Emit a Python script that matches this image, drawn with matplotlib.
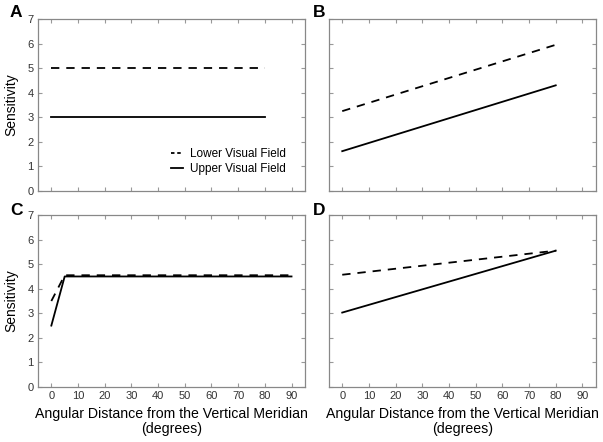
"""Four model panels of visual-field sensitivity versus angular distance."""

import matplotlib
matplotlib.use("Agg")
import matplotlib.pyplot as plt

plt.rcParams["font.family"] = ["Liberation Sans", "DejaVu Sans"]
plt.rcParams["lines.scale_dashes"] = False

# panel data: (x, lower visual field, upper visual field)
a_x = [0, 80]
a_lower = [5.0, 5.0]
a_upper = [3.0, 3.0]

b_x = [0, 80]
b_lower = [3.25, 5.95]
b_upper = [1.62, 4.3]

c_x = [0, 5, 90]
c_lower = [3.5, 4.55, 4.55]
c_upper = [2.5, 4.5, 4.5]

d_x = [0, 80]
d_lower = [4.57, 5.55]
d_upper = [3.03, 5.55]

panels = [
    ("A", a_x, a_lower, a_upper),
    ("B", b_x, b_lower, b_upper),
    ("C", c_x, c_lower, c_upper),
    ("D", d_x, d_lower, d_upper),
]

xticks = list(range(0, 100, 10))
yticks = list(range(0, 8))
xlabel = "Angular Distance from the Vertical Meridian\n(degrees)"

fig, axes = plt.subplots(2, 2, figsize=(6.03, 4.42), dpi=100)
fig.subplots_adjust(left=0.063, right=0.988, top=0.957, bottom=0.1244,
                    wspace=0.09, hspace=0.14)

for i, (ax, (letter, x, lower, upper)) in enumerate(zip(axes.flat, panels)):
    ax.plot(x, lower, color="black", lw=1.3, dashes=(6, 5),
            label="Lower Visual Field")
    ax.plot(x, upper, color="black", lw=1.3, label="Upper Visual Field")
    ax.set_xlim(-5, 95)
    ax.set_ylim(0, 7)
    ax.set_xticks(xticks)
    ax.set_yticks(yticks)
    ax.tick_params(direction="in", length=3, color="#999999", top=True,
                   right=True, labelsize=8, labelcolor="#333333", pad=3)
    for sp in ax.spines.values():
        sp.set_color("#888888")
        sp.set_linewidth(0.9)
    # panel letter
    lx = -0.082 if i % 2 == 0 else -0.037
    ly = 1.04 if i < 2 else 1.027
    ax.text(lx, ly, letter, transform=ax.transAxes, fontsize=12.5,
            fontweight="bold", ha="center", va="center")

for ax in axes[0]:
    ax.tick_params(labelbottom=False)
for ax in axes[:, 1]:
    ax.tick_params(labelleft=False)
for ax in axes[:, 0]:
    ax.set_ylabel("Sensitivity", fontsize=10, labelpad=7)
for ax in axes[1]:
    ax.set_xlabel(xlabel, fontsize=10.2, labelpad=4, linespacing=1.1)

leg = axes[0, 0].legend(loc="lower right", frameon=False, fontsize=8.5,
                        handlelength=1.0, handletextpad=0.6,
                        labelspacing=0.3, bbox_to_anchor=(0.97, 0.03))
leg.get_lines()[0].set_dashes((2.5, 2))

fig.savefig("out.png", dpi=100)
